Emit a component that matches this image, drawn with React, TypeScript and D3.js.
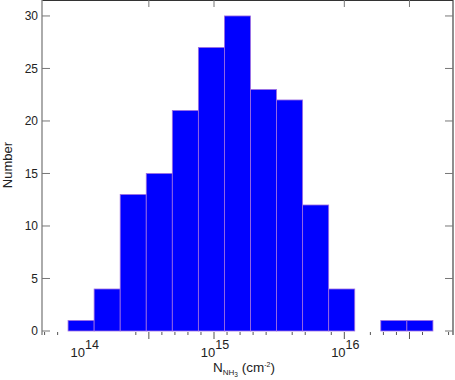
import React from "react";
import * as d3 from "d3";

// histogram of NH3 column densities, bins are 0.2 dex wide (log10 lower edges)
const binStarts = [13.88, 14.08, 14.28, 14.48, 14.68, 14.88, 15.08, 15.28, 15.48, 15.68, 15.88, 16.28, 16.48];
const counts = [1, 4, 13, 15, 21, 27, 30, 23, 22, 12, 4, 1, 1];
const binWidth = 0.2;

// axis ticks (log10 exponents) as seen on the plot
const bottomTicks = [13.7, 13.8, 14.4, 14.5, 14.6, 14.7, 14.8, 14.9, 15, 15.1, 15.2, 15.3, 15.4, 15.6, 15.7, 15.9, 16, 16.2, 16.3, 16.4, 16.5, 16.6, 16.8];
const longTicks = [14.5, 15, 16, 16.5];
const topTicks = [14.5, 15, 16, 16.5];
const decadeLabels = [14, 15, 16];
const yTicks = [0, 5, 10, 15, 20, 25, 30];

const W = 455;
const H = 380;
const left = 42;
const right = 453;
const top = 0;
const bottom = 331;
const font = "'Liberation Sans', Arial, sans-serif";

export default function App() {
  const x = d3.scaleLog().domain([Math.pow(10, 13.68), Math.pow(10, 16.834)]).range([left, right]);
  const y = d3.scaleLinear().domain([0, 31.52]).range([bottom, top]);
  const px = (e: number) => x(Math.pow(10, e));

  return (
    <svg width={W} height={H} style={{ position: "absolute", left: 0, top: 0, background: "#fff" }} fontFamily={font}>
      {/* bars */}
      {counts.map((c, i) => (
        <rect
          key={i}
          x={px(binStarts[i])}
          y={y(c)}
          width={px(binStarts[i] + binWidth) - px(binStarts[i])}
          height={y(0) - y(c)}
          fill="#0000ff"
          stroke="#a070e0"
          strokeWidth={0.8}
        />
      ))}

      {/* frame */}
      <line x1={left} x2={right} y1={0.5} y2={0.5} stroke="#333" strokeWidth={1.2} />
      <line x1={left} x2={left} y1={0} y2={335} stroke="#888" strokeWidth={1.4} />
      <line x1={right} x2={right} y1={0} y2={335} stroke="#444" strokeWidth={1.2} />

      {/* y ticks + labels */}
      {yTicks.map((t) => (
        <g key={t}>
          <line x1={left} x2={left + 8} y1={y(t)} y2={y(t)} stroke="#777" strokeWidth={1} />
          <line x1={right - 8} x2={right} y1={y(t)} y2={y(t)} stroke="#777" strokeWidth={1} />
          <text x={38} y={y(t)} dy="0.35em" textAnchor="end" fontSize={12} fill="#222">
            {t}
          </text>
        </g>
      ))}

      {/* bottom ticks */}
      {bottomTicks.map((e) => {
        const isLong = longTicks.includes(e);
        return (
          <line key={e} x1={px(e)} x2={px(e)} y1={bottom + 1} y2={isLong ? bottom + 8 : bottom + 4} stroke="#555" strokeWidth={1} />
        );
      })}

      {/* top ticks */}
      {topTicks.map((e) => (
        <line key={e} x1={px(e)} x2={px(e)} y1={0} y2={7} stroke="#777" strokeWidth={1} />
      ))}

      {/* decade labels */}
      {decadeLabels.map((d) => (
        <text key={d} x={px(d) + 1} y={357} textAnchor="middle" fontSize={13} fill="#222">
          10
          <tspan dy={-8} fontSize={12.5}>{d}</tspan>
        </text>
      ))}

      {/* axis titles */}
      <text transform={`translate(12,165) rotate(-90)`} textAnchor="middle" fontSize={13} fill="#222">
        Number
      </text>
      <text x={213} y={372} fontSize={13.5} fill="#222">
        N
        <tspan fontSize={8} dy={3}>NH</tspan>
        <tspan fontSize={6.5} dy={2}>3</tspan>
        <tspan fontSize={13.5} dy={-5}> (cm</tspan>
        <tspan fontSize={7} dy={-5}>-2</tspan>
        <tspan fontSize={13.5} dy={5}>)</tspan>
      </text>
    </svg>
  );
}
